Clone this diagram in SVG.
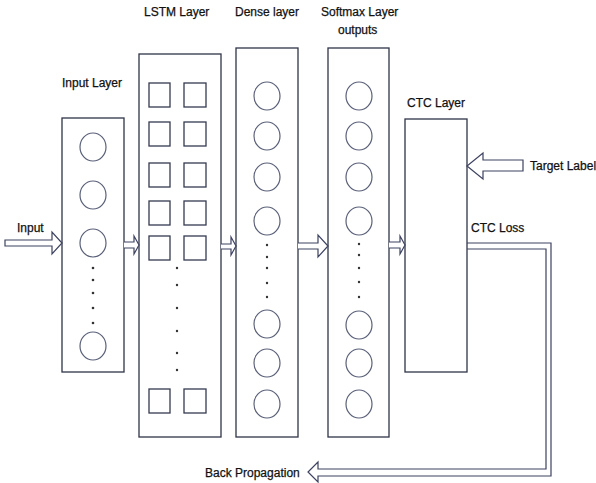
<svg xmlns="http://www.w3.org/2000/svg" width="596" height="483" viewBox="0 0 596 483">
<defs>
<style>
.box{fill:#fff;stroke:#2e3347;stroke-width:1.3}
.cell{fill:none;stroke:#353a50;stroke-width:1.3}
.neu{fill:none;stroke:#5a6078;stroke-width:1.2}
.dot{fill:#333}
.arr{fill:#fff;stroke:#3d4260;stroke-width:1.2;stroke-linejoin:miter}
.lbl{font-family:"Liberation Sans",Arial,sans-serif;font-size:12px;fill:#111;stroke:#111;stroke-width:0.25}
</style>
</defs>
<rect width="596" height="483" fill="#fff"/>

<g id="input-layer">
<rect class="box" x="62" y="118" width="62" height="254"/>
<ellipse class="neu" cx="93" cy="147" rx="13" ry="14"/>
<ellipse class="neu" cx="93" cy="195" rx="13" ry="14"/>
<ellipse class="neu" cx="93" cy="243" rx="13" ry="14"/>
<circle class="dot" cx="93" cy="268" r="1.3"/>
<circle class="dot" cx="93" cy="280" r="1.3"/>
<circle class="dot" cx="93" cy="293" r="1.3"/>
<circle class="dot" cx="93" cy="308" r="1.3"/>
<circle class="dot" cx="93" cy="323" r="1.3"/>
<ellipse class="neu" cx="93" cy="346" rx="13" ry="14"/>
<text class="lbl" x="62" y="87">Input Layer</text>
</g>

<g id="lstm-layer">
<rect class="box" x="139" y="54" width="82" height="383"/>
<rect class="cell" x="149" y="83" width="21" height="24"/>
<rect class="cell" x="184" y="83" width="22" height="24"/>
<rect class="cell" x="149" y="122" width="21" height="24"/>
<rect class="cell" x="184" y="122" width="22" height="24"/>
<rect class="cell" x="149" y="163" width="21" height="24"/>
<rect class="cell" x="184" y="163" width="22" height="24"/>
<rect class="cell" x="149" y="201" width="21" height="24"/>
<rect class="cell" x="184" y="201" width="22" height="24"/>
<rect class="cell" x="149" y="236" width="21" height="24"/>
<rect class="cell" x="184" y="236" width="22" height="24"/>
<circle class="dot" cx="177" cy="268" r="1.2"/>
<circle class="dot" cx="177" cy="285" r="1.2"/>
<circle class="dot" cx="177" cy="308" r="1.2"/>
<circle class="dot" cx="177" cy="331" r="1.2"/>
<circle class="dot" cx="177" cy="353" r="1.2"/>
<circle class="dot" cx="177" cy="370" r="1.2"/>
<rect class="cell" x="149" y="389" width="21" height="24"/>
<rect class="cell" x="184" y="389" width="22" height="24"/>
<text class="lbl" x="144" y="16">LSTM Layer</text>
</g>

<g id="dense-layer">
<rect class="box" x="236" y="48" width="62" height="389"/>
<ellipse class="neu" cx="267" cy="96" rx="13" ry="14"/>
<ellipse class="neu" cx="267" cy="136" rx="13" ry="14"/>
<ellipse class="neu" cx="267" cy="177" rx="13" ry="14"/>
<ellipse class="neu" cx="267" cy="221" rx="13" ry="14"/>
<circle class="dot" cx="267" cy="245" r="1.2"/>
<circle class="dot" cx="267" cy="257" r="1.2"/>
<circle class="dot" cx="267" cy="268" r="1.2"/>
<circle class="dot" cx="267" cy="283" r="1.2"/>
<circle class="dot" cx="267" cy="297" r="1.2"/>
<ellipse class="neu" cx="267" cy="324" rx="13" ry="14"/>
<ellipse class="neu" cx="267" cy="363" rx="13" ry="14"/>
<ellipse class="neu" cx="267" cy="404" rx="13" ry="14"/>
<text class="lbl" x="235" y="16">Dense layer</text>
</g>

<g id="softmax-layer">
<rect class="box" x="328" y="48" width="61" height="389"/>
<ellipse class="neu" cx="359" cy="96" rx="13" ry="14"/>
<ellipse class="neu" cx="359" cy="136" rx="13" ry="14"/>
<ellipse class="neu" cx="359" cy="177" rx="13" ry="14"/>
<ellipse class="neu" cx="359" cy="221" rx="13" ry="14"/>
<circle class="dot" cx="359" cy="244" r="1.2"/>
<circle class="dot" cx="359" cy="255" r="1.2"/>
<circle class="dot" cx="359" cy="268" r="1.2"/>
<circle class="dot" cx="359" cy="282" r="1.2"/>
<circle class="dot" cx="359" cy="297" r="1.2"/>
<ellipse class="neu" cx="359" cy="325" rx="13" ry="14"/>
<ellipse class="neu" cx="359" cy="363" rx="13" ry="14"/>
<ellipse class="neu" cx="359" cy="404" rx="13" ry="14"/>
<text class="lbl" x="321" y="16">Softmax Layer</text>
<text class="lbl" x="338" y="34">outputs</text>
</g>

<g id="ctc-layer">
<rect class="box" x="405" y="119" width="62" height="253"/>
<text class="lbl" x="407" y="107">CTC Layer</text>
</g>

<g id="connectors">
<path class="arr" d="M5,240 H52 V232 L62,243 L52,254 V246 H5 Z"/>
<path class="arr" d="M124,242 H134 V236 L139,245 L134,254 V248 H124"/>
<path class="arr" d="M221,244 H231 V237 L236,246 L231,255 V249 H221"/>
<path class="arr" d="M298,243 H318 V235 L328,246 L318,257 V249 H298"/>
<path class="arr" d="M389,242 H400 V236 L405,245 L400,254 V248 H389"/>
<path class="arr" d="M523,160 H483 V153 L467,166 L483,179 V171 H523 Z"/>
<path class="arr" fill="none" style="fill:none" d="M467,243 H551 V476 H318 V482 L308,472 L318,462 V469 H546 V249 H467"/>
</g>

<g id="labels">
<text class="lbl" x="17" y="232">Input</text>
<text class="lbl" x="530" y="170">Target Label</text>
<text class="lbl" x="471" y="232">CTC Loss</text>
<text class="lbl" x="205" y="477">Back Propagation</text>
</g>
</svg>
